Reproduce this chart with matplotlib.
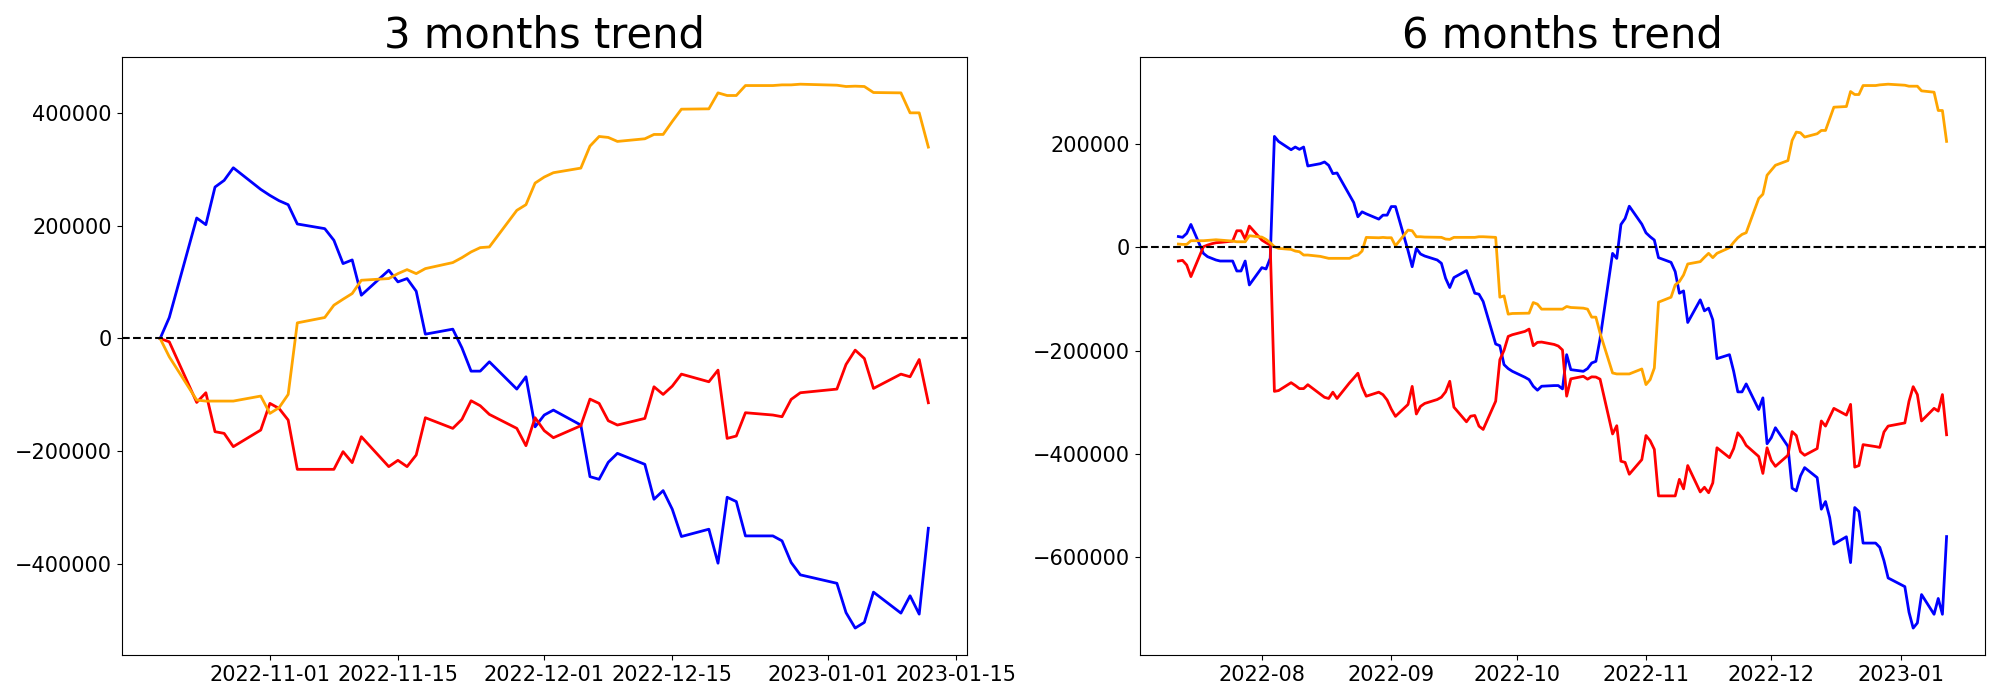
import pandas as pd
import matplotlib
matplotlib.use("Agg")
import matplotlib.pyplot as plt

# ---- 3 months data ----
dates_3m = ["2022-10-20", "2022-10-21", "2022-10-24", "2022-10-25", "2022-10-26", "2022-10-27", "2022-10-28",
            "2022-10-31", "2022-11-01", "2022-11-02", "2022-11-03", "2022-11-04", "2022-11-07", "2022-11-08",
            "2022-11-09", "2022-11-10", "2022-11-11", "2022-11-14", "2022-11-15", "2022-11-16", "2022-11-17",
            "2022-11-18", "2022-11-21", "2022-11-22", "2022-11-23", "2022-11-24", "2022-11-25", "2022-11-28",
            "2022-11-29", "2022-11-30", "2022-12-01", "2022-12-02", "2022-12-05", "2022-12-06", "2022-12-07",
            "2022-12-08", "2022-12-09", "2022-12-12", "2022-12-13", "2022-12-14", "2022-12-15", "2022-12-16",
            "2022-12-19", "2022-12-20", "2022-12-21", "2022-12-22", "2022-12-23", "2022-12-26", "2022-12-27",
            "2022-12-28", "2022-12-29", "2023-01-02", "2023-01-03", "2023-01-04", "2023-01-05", "2023-01-06",
            "2023-01-09", "2023-01-10", "2023-01-11", "2023-01-12"]

blue_3m = [0, 37300, 214100, 202300, 269100, 281000, 303400,
           265000, 254300, 244900, 237800, 203500, 195200, 174500,
           133100, 139600, 76900, 121300, 100600, 106500, 84000,
           7700, 16600, -16600, -58000, -58000, -41400, -89900,
           -68000, -157000, -136000, -127200, -153800, -245500, -250200,
           -220000, -204100, -223600, -285700, -270300, -303400, -351900,
           -338900, -399300, -282100, -289800, -350800, -350800, -359600,
           -398100, -420000, -435000, -487200, -514600, -504500, -450700,
           -488000, -457200, -489800, -337200]

red_3m = [0, -5900, -113600, -96400, -165600, -168600, -192200,
          -162700, -115300, -124200, -144900, -232500, -232500, -232500,
          -201100, -220600, -174500, -227700, -216500, -227700, -207000,
          -140800, -159700, -143700, -110600, -119500, -134900, -159700,
          -190500, -140800, -163800, -176300, -155000, -107700, -115300,
          -146100, -153800, -142000, -85800, -99400, -84600, -63300,
          -76900, -56200, -177500, -173300, -131900, -136000, -139000,
          -108200, -96400, -89900, -46100, -20700, -35500, -88700,
          -63300, -68000, -37300, -114200]

orange_3m = [0, -32500, -109400, -111200, -111200, -111200, -111200,
             -102300, -133100, -123000, -99400, 27800, 37300, 59200,
             69800, 79900, 103500, 106500, 115300, 122400, 115300,
             124200, 134900, 143700, 153800, 161500, 162700, 227700,
             237800, 276200, 286900, 294600, 302800, 341900, 359000,
             357300, 350200, 354900, 362600, 362600, 385700, 407500,
             408100, 436500, 431800, 431800, 449500, 449500, 450700,
             450700, 451900, 450100, 447800, 448400, 447800, 437100,
             436500, 401000, 401000, 340100]

# ---- 6 months data ----
dates_6m = ["2022-07-12", "2022-07-13", "2022-07-14", "2022-07-15", "2022-07-18", "2022-07-19", "2022-07-20",
            "2022-07-21", "2022-07-22", "2022-07-25", "2022-07-26", "2022-07-27", "2022-07-28", "2022-07-29",
            "2022-08-01", "2022-08-02", "2022-08-03", "2022-08-04", "2022-08-05", "2022-08-08", "2022-08-09",
            "2022-08-10", "2022-08-11", "2022-08-12", "2022-08-15", "2022-08-16", "2022-08-17", "2022-08-18",
            "2022-08-19", "2022-08-22", "2022-08-23", "2022-08-24", "2022-08-25", "2022-08-26", "2022-08-29",
            "2022-08-30", "2022-08-31", "2022-09-01", "2022-09-02", "2022-09-05", "2022-09-06", "2022-09-07",
            "2022-09-08", "2022-09-09", "2022-09-12", "2022-09-13", "2022-09-14", "2022-09-15", "2022-09-16",
            "2022-09-19", "2022-09-20", "2022-09-21", "2022-09-22", "2022-09-23", "2022-09-26", "2022-09-27",
            "2022-09-28", "2022-09-29", "2022-09-30", "2022-10-03", "2022-10-04", "2022-10-05", "2022-10-06",
            "2022-10-07", "2022-10-10", "2022-10-11", "2022-10-12", "2022-10-13", "2022-10-14", "2022-10-17",
            "2022-10-18", "2022-10-19", "2022-10-20", "2022-10-21", "2022-10-24", "2022-10-25", "2022-10-26",
            "2022-10-27", "2022-10-28", "2022-10-31", "2022-11-01", "2022-11-02", "2022-11-03", "2022-11-04",
            "2022-11-07", "2022-11-08", "2022-11-09", "2022-11-10", "2022-11-11", "2022-11-14", "2022-11-15",
            "2022-11-16", "2022-11-17", "2022-11-18", "2022-11-21", "2022-11-22", "2022-11-23", "2022-11-24",
            "2022-11-25", "2022-11-28", "2022-11-29", "2022-11-30", "2022-12-01", "2022-12-02", "2022-12-05",
            "2022-12-06", "2022-12-07", "2022-12-08", "2022-12-09", "2022-12-12", "2022-12-13", "2022-12-14",
            "2022-12-15", "2022-12-16", "2022-12-19", "2022-12-20", "2022-12-21", "2022-12-22", "2022-12-23",
            "2022-12-26", "2022-12-27", "2022-12-28", "2022-12-29", "2023-01-02", "2023-01-03", "2023-01-04",
            "2023-01-05", "2023-01-06", "2023-01-09", "2023-01-10", "2023-01-11", "2023-01-12"]

blue_6m = [21000, 19500, 27000, 44400, -11600, -18000, -21200,
           -24400, -26400, -26400, -45700, -45700, -26400, -72700,
           -39200, -41800, -21000, 214800, 205000, 189000, 194200,
           189700, 194200, 157500, 162000, 165300, 158800, 142700,
           144000, 101000, 86800, 59200, 68800, 64900, 54700,
           62400, 62400, 79000, 79000, -6000, -37400, -1900,
           -12800, -16700, -24400, -30800, -59700, -77700, -58400,
           -44900, -66200, -88700, -90600, -104700, -187000, -190300,
           -226900, -234600, -239800, -251300, -255900, -268700, -276400,
           -268700, -267400, -267400, -273900, -207600, -236600, -239800,
           -234600, -223700, -220500, -177000, -11600, -21300, 44300,
           55900, 79700, 45000, 28200, 20600, 14200, -19900,
           -28900, -46900, -88700, -84200, -145300, -101500, -122800,
           -117600, -140100, -215300, -207600, -239800, -279600, -279600,
           -264200, -313700, -291200, -380000, -368400, -349000, -385000,
           -466100, -471200, -442300, -426200, -445500, -506600, -491800,
           -522700, -574100, -560000, -610000, -503400, -511100, -572200,
           -572200, -580500, -606300, -639700, -656500, -706100, -736700,
           -726800, -671800, -710000, -679400, -710000, -559600]

red_6m = [-26400, -25100, -34100, -56600, 1300, 4500, 7100,
          9000, 9600, 12200, 32200, 32200, 16100, 41200,
          14100, 9000, 4500, -278600, -277100, -261800, -267200,
          -273300, -273300, -265700, -284000, -290100, -292400, -280200,
          -292400, -262000, -253000, -243500, -270000, -288000, -280200,
          -285000, -295400, -313000, -327000, -304000, -269000, -322400,
          -307600, -302000, -294400, -289900, -279600, -259100, -309200,
          -337500, -326600, -325300, -345900, -352300, -297600, -217300,
          -199300, -172300, -169000, -162600, -158100, -190300, -183800,
          -183200, -187800, -190900, -198500, -287900, -254400, -249500,
          -255000, -250500, -250900, -255000, -361100, -345100, -413800,
          -416100, -439000, -410700, -364100, -374100, -390900, -480900,
          -480900, -480900, -448900, -467200, -422200, -473300, -464200,
          -474800, -455800, -387800, -406900, -389300, -358800, -368700,
          -383200, -404600, -437400, -387800, -412200, -423700, -402300,
          -356500, -364100, -395400, -402300, -389300, -335900, -345800,
          -328300, -311500, -324500, -303800, -425200, -422200, -381700,
          -385500, -387100, -357300, -345800, -339700, -297700, -269500,
          -284800, -335900, -311500, -316800, -284800, -362600]

orange_6m = [6400, 5800, 5800, 12900, 12900, 13500, 14100,
             14800, 14100, 12200, 10900, 10900, 10900, 22500,
             19900, 15400, 9000, 1300, -1900, -3900, -7100,
             -8400, -14800, -14800, -17400, -19300, -21200, -21200,
             -21200, -21200, -16700, -14800, -7100, 19300, 18600,
             19300, 18600, 18700, 3000, 33500, 32200, 20600,
             20600, 20000, 19400, 19400, 16100, 15500, 19400,
             19400, 19400, 19400, 20600, 20600, 19400, -96400,
             -93800, -129200, -127900, -127300, -127300, -106700, -109900,
             -119500, -119500, -119500, -119500, -114400, -116300, -117600,
             -119500, -135000, -135000, -165800, -243000, -244900, -244900,
             -244900, -244900, -235300, -265500, -255900, -233400, -106000,
             -96400, -72600, -66200, -53300, -32100, -27600, -19200,
             -11500, -19900, -11500, -600, 9700, 18700, 25100,
             28400, 94600, 102900, 139600, 149200, 158900, 168000,
             207000, 223100, 221800, 213500, 219900, 226300, 226300,
             248800, 271300, 272600, 301600, 295800, 295800, 313200,
             313200, 314500, 315100, 315800, 313800, 311900, 311900,
             311900, 302900, 300300, 264900, 264900, 205100]

x3 = pd.to_datetime(dates_3m)
x6 = pd.to_datetime(dates_6m)

fig, (ax1, ax2) = plt.subplots(1, 2, figsize=(20, 7), dpi=100)

# 3 months
ax1.plot(x3, blue_3m, color='blue', linewidth=2)
ax1.plot(x3, red_3m, color='red', linewidth=2)
ax1.plot(x3, orange_3m, color='orange', linewidth=2)
ax1.axhline(0, color='black', linestyle='--', linewidth=1.5)
ax1.set_title('3 months trend', fontsize=30)
ax1.tick_params(labelsize=15)

# 6 months
ax2.plot(x6, blue_6m, color='blue', linewidth=2)
ax2.plot(x6, red_6m, color='red', linewidth=2)
ax2.plot(x6, orange_6m, color='orange', linewidth=2)
ax2.axhline(0, color='black', linestyle='--', linewidth=1.5)
ax2.set_title('6 months trend', fontsize=30)
ax2.tick_params(labelsize=15)

plt.tight_layout()
plt.savefig('out.png')
